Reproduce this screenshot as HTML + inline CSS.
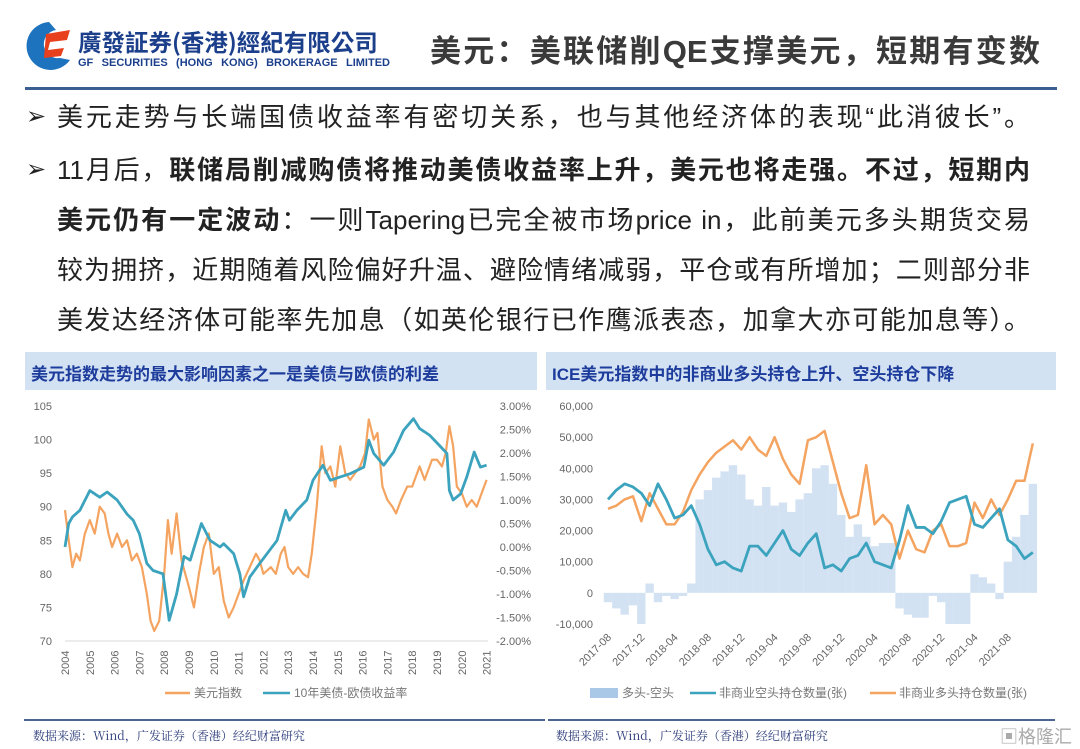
<!DOCTYPE html>
<html><head><meta charset="utf-8">
<style>
body{margin:0;width:1080px;height:748px;background:#fff;overflow:hidden;position:relative;font-family:"Liberation Sans","Noto Sans CJK SC",sans-serif;}
.abs{position:absolute;}
.bl{position:absolute;left:57px;width:973px;font-size:26px;color:#222;white-space:nowrap;line-height:30px;text-align:justify;text-align-last:justify;}
.arrow{position:absolute;left:26px;font-size:24px;color:#222;}
.band{position:absolute;top:352px;height:38px;background:#d3e2f3;}
.band span{position:absolute;left:6px;top:8px;font-size:17px;font-weight:bold;color:#1d3c9c;}
.src{position:absolute;top:727px;font-size:12px;color:#2a3a7a;font-family:"Noto Serif CJK SC",serif;}
svg text{font-family:"Liberation Sans","Noto Sans CJK SC",sans-serif;}
</style></head><body>
<div class="abs" style="left:26px;top:20px;width:46px;height:52px;">
<svg width="46" height="52"><path d="M23 2 A24 24 0 1 0 44 40 L34 38 A14 14 0 1 1 30 10 Z" fill="#1e73be"/><path d="M20 14 L44 10 L41 20 L24 22 L22 30 L38 28 L35 36 L18 38 Z" fill="#e8401c"/></svg></div>
<div class="abs" style="left:78px;top:26px;font-size:23.5px;font-weight:bold;color:#1c3f8c;font-family:'Noto Sans CJK TC',sans-serif;line-height:30px;white-space:nowrap;">廣發証券(香港)經紀有限公司</div>
<div class="abs" style="left:78px;top:57px;width:312px;font-size:11px;font-weight:bold;color:#1c3f8c;line-height:13px;white-space:nowrap;text-align:justify;text-align-last:justify;">GF SECURITIES (HONG KONG) BROKERAGE LIMITED</div>
<div class="abs" style="left:430px;top:33px;width:610px;font-size:31px;font-weight:bold;color:#3a3a3a;line-height:38px;white-space:nowrap;text-align:justify;text-align-last:justify;">美元：美联储削QE支撑美元，短期有变数</div>
<div class="abs" style="left:25px;top:87px;width:1032px;height:3px;background:#3b5f92;"></div>

<div class="arrow" style="top:102px;">➢</div>
<div class="bl" style="top:102px;">美元走势与长端国债收益率有密切关系，也与其他经济体的表现“此消彼长”。</div>
<div class="arrow" style="top:155px;">➢</div>
<div class="bl" style="top:155px;">11月后，<b>联储局削减购债将推动美债收益率上升，美元也将走强。不过，短期内</b></div>
<div class="bl" style="top:205px;"><b>美元仍有一定波动</b>：一则Tapering已完全被市场price in，此前美元多头期货交易</div>
<div class="bl" style="top:255px;">较为拥挤，近期随着风险偏好升温、避险情绪减弱，平仓或有所增加；二则部分非</div>
<div class="bl" style="top:305px;">美发达经济体可能率先加息（如英伦银行已作鹰派表态，加拿大亦可能加息等）。</div>

<div class="band" style="left:25px;width:512px;"><span>美元指数走势的最大影响因素之一是美债与欧债的利差</span></div>
<div class="band" style="left:546px;width:510px;"><span>ICE美元指数中的非商业多头持仓上升、空头持仓下降</span></div>

<svg id="lc" class="abs" style="left:0;top:0;" width="540" height="748"></svg>
<svg id="rc" class="abs" style="left:540px;top:0;" width="540" height="748"></svg>

<div class="abs" style="left:24px;top:719px;width:521px;height:2px;background:#4a6590;"></div>
<div class="abs" style="left:548px;top:719px;width:507px;height:2px;background:#4a6590;"></div>
<div class="src" style="left:33px;">数据来源：Wind，广发证券（香港）经纪财富研究</div>
<div class="src" style="left:556px;">数据来源：Wind，广发证券（香港）经纪财富研究</div>
<div class="abs" style="left:1000px;top:723px;font-size:18px;color:#aaa;">▣格隆汇</div>

<script>
const NS="http://www.w3.org/2000/svg";
// ---- left chart data ----
const dxyYears=[2004.0,2004.15,2004.3,2004.45,2004.6,2004.8,2005.0,2005.2,2005.4,2005.6,2005.75,2005.9,2006.1,2006.3,2006.5,2006.7,2006.9,2007.1,2007.3,2007.45,2007.6,2007.8,2008.0,2008.15,2008.3,2008.5,2008.7,2009.0,2009.2,2009.4,2009.6,2009.8,2010.0,2010.2,2010.4,2010.6,2010.8,2011.0,2011.2,2011.45,2011.7,2011.85,2012.0,2012.3,2012.5,2012.7,2012.85,2013.0,2013.2,2013.4,2013.6,2013.8,2013.95,2014.15,2014.35,2014.5,2014.7,2014.9,2015.1,2015.3,2015.5,2015.7,2015.9,2016.1,2016.25,2016.45,2016.6,2016.8,2017.0,2017.2,2017.35,2017.55,2017.8,2018.0,2018.3,2018.5,2018.8,2019.0,2019.2,2019.35,2019.5,2019.65,2019.8,2020.0,2020.2,2020.4,2020.6,2020.8,2021.0];
const dxyValues=[89.5,85,81,83,82,86,88,86,90,89,86,84,86,84,85,82,83,81,77,73,71.5,73,80,88,83,89,82,78,75,80,84,86,80,81,76,73.5,75,77,79,81,83,82,80,81,80,83,84,81,80,81,80,79.5,83,90,99,95,96,93,99,95,94,95,96,98,103,100,101,93,91,90,89,91,93,93,96,94,97,97,96,98,102,99,93,92,90,91,90,92,94];
const sprYears=[2004.0,2004.15,2004.3,2004.6,2005.0,2005.4,2005.7,2006.1,2006.5,2006.75,2007.0,2007.3,2007.55,2007.95,2008.2,2008.5,2008.8,2009.05,2009.5,2009.85,2010.25,2010.4,2010.8,2011.05,2011.2,2011.45,2011.85,2012.25,2012.55,2012.9,2013.05,2013.35,2013.75,2014.0,2014.4,2014.7,2015.1,2015.5,2016.05,2016.25,2016.45,2016.85,2017.25,2017.65,2018.05,2018.3,2018.7,2019.1,2019.4,2019.5,2019.65,2019.95,2020.2,2020.5,2020.75,2021.0];
const sprValues=[0.0,0.5,0.64,0.78,1.2,1.06,1.17,1.0,0.7,0.57,0.28,-0.35,-0.5,-0.57,-1.56,-1.0,-0.2,-0.28,0.5,0.14,0.0,0.07,-0.14,-0.57,-1.06,-0.64,-0.35,-0.07,0.14,0.78,0.57,0.78,1.0,1.42,1.74,1.42,1.49,1.56,1.70,2.27,1.99,1.74,2.02,2.48,2.73,2.52,2.38,2.16,1.99,1.2,1.0,1.13,1.49,2.02,1.70,1.74];
const leftTicks=[70,75,80,85,90,95,100,105];
const rightTicks=["-2.00%","-1.50%","-1.00%","-0.50%","0.00%","0.50%","1.00%","1.50%","2.00%","2.50%","3.00%"];
const yearLabels=[2004,2005,2006,2007,2008,2009,2010,2011,2012,2013,2014,2015,2016,2017,2018,2019,2020,2021];
// ---- right chart data ----
const monthLabels=["2017-08","2017-12","2018-04","2018-08","2018-12","2019-04","2019-08","2019-12","2020-04","2020-08","2020-12","2021-04","2021-08"];
const netValues=[-3000,-5000,-7000,-4000,-10000,3000,-3000,-1000,-2000,-1000,3000,30000,33000,37000,39000,41000,38000,30000,28000,34000,28000,29000,26000,30000,32000,40000,41000,35000,25000,18000,22000,18000,15000,16000,16000,-5000,-7000,-8000,-8000,-1000,-3000,-10000,-10000,-10000,6000,5000,3000,-2000,10000,18000,25000,35000];
const shortValues=[30000,33000,35000,34000,32000,28000,35000,30000,24000,25000,28000,22000,14000,9000,10000,8000,7000,15000,15000,12000,16000,20000,14000,12000,16000,19000,8000,9000,7000,11000,12000,16000,10000,9000,8000,17000,28000,21000,21000,19000,23000,29000,30000,31000,22000,21000,24000,27000,17000,15000,11000,13000];
const longValues=[27000,28000,30000,31000,23000,32000,27000,22000,22000,26000,33000,38000,42000,45000,47000,49000,46000,50000,46000,44000,50000,43000,38000,35000,49000,50000,52000,42000,32000,24000,25000,41000,22000,25000,22000,11000,20000,14000,13000,20000,22000,15000,15000,16000,29000,24000,30000,25000,30000,36000,36000,48000];
const rightYTicks=[-10000,0,10000,20000,30000,40000,50000,60000];

function mk(svg,tag,attrs,name,text){const e=document.createElementNS(NS,tag);for(const k in attrs)e.setAttribute(k,attrs[k]);


if(text!==undefined)e.textContent=text;svg.appendChild(e);return e;}

// left chart
const L=document.getElementById('lc');
const lx=t=>65+(t-2004)*24.8;
const ly=v=>406+(105-v)*235/35;
const ry=p=>406+(3-p)*235/5;
mk(L,'line',{x1:65,x2:488,y1:641,y2:641,stroke:'#d9d9d9','stroke-width':1},'left-x-axis-line');
leftTicks.forEach(v=>mk(L,'text',{x:52,y:ly(v)+4,'text-anchor':'end','font-size':11,fill:'#666'},'left-y-tick-label',String(v)));
rightTicks.forEach(s=>{const p=parseFloat(s);mk(L,'text',{x:531,y:ry(p)+4,'text-anchor':'end','font-size':11,fill:'#666'},'right-y-tick-label',s);});
yearLabels.forEach(y=>{const x=lx(y);mk(L,'text',{x:0,y:0,transform:`translate(${x+4},${675}) rotate(-90)`,'font-size':11,fill:'#666'},'x-tick-label',String(y));});
mk(L,'polyline',{points:dxyYears.map((t,i)=>lx(t)+','+ly(dxyValues[i])).join(' '),fill:'none',stroke:'#f4a460','stroke-width':2.2,'stroke-linejoin':'round'},'dxy-line');
mk(L,'polyline',{points:sprYears.map((t,i)=>lx(t)+','+ry(sprValues[i])).join(' '),fill:'none',stroke:'#3ba3bd','stroke-width':2.8,'stroke-linejoin':'round'},'spread-line');
mk(L,'line',{x1:165,x2:190,y1:693,y2:693,stroke:'#f4a460','stroke-width':2.5},'legend-dxy-swatch');
mk(L,'text',{x:194,y:697,'font-size':12,fill:'#777'},'legend-dxy-label','美元指数');
mk(L,'line',{x1:263,x2:290,y1:693,y2:693,stroke:'#3ba3bd','stroke-width':2.5},'legend-spread-swatch');
mk(L,'text',{x:294,y:697,'font-size':12,fill:'#777'},'legend-spread-label','10年美债-欧债收益率');

// right chart (svg offset 540)
const R=document.getElementById('rc');
const mx=m=>68+m*8.33;
const vy=v=>406+(60000-v)*218/70000;
rightYTicks.forEach(v=>mk(R,'text',{x:53,y:vy(v)+4,'text-anchor':'end','font-size':11,fill:'#666'},'right-chart-y-tick-label',v.toLocaleString('en-US')));
netValues.forEach((v,i)=>mk(R,'rect',{x:mx(i)-4.2,y:Math.min(vy(v),vy(0)),width:8.4,height:Math.abs(vy(v)-vy(0)),fill:'#d3e2f2'},'net-position-bar'));
mk(R,'polyline',{points:longValues.map((v,i)=>mx(i)+','+vy(v)).join(' '),fill:'none',stroke:'#f4a460','stroke-width':2.5,'stroke-linejoin':'round'},'long-position-line');
mk(R,'polyline',{points:shortValues.map((v,i)=>mx(i)+','+vy(v)).join(' '),fill:'none',stroke:'#3ba3bd','stroke-width':2.8,'stroke-linejoin':'round'},'short-position-line');
monthLabels.forEach((s,i)=>{const x=mx(i*4);mk(R,'text',{x:0,y:0,transform:`translate(${x+4},${638}) rotate(-45)`,'text-anchor':'end','font-size':11,fill:'#666'},'right-chart-x-tick-label',s);});
mk(R,'rect',{x:50,y:688,width:28,height:10,fill:'#a9c8e8'},'legend-net-swatch');
mk(R,'text',{x:82,y:697,'font-size':12,fill:'#777'},'legend-net-label','多头-空头');
mk(R,'line',{x1:150,x2:176,y1:693,y2:693,stroke:'#3ba3bd','stroke-width':2.5},'legend-short-swatch');
mk(R,'text',{x:179,y:697,'font-size':12,fill:'#777'},'legend-short-label','非商业空头持仓数量(张)');
mk(R,'line',{x1:330,x2:356,y1:693,y2:693,stroke:'#f4a460','stroke-width':2.5},'legend-long-swatch');
mk(R,'text',{x:359,y:697,'font-size':12,fill:'#777'},'legend-long-label','非商业多头持仓数量(张)');
</script>
</body></html>
